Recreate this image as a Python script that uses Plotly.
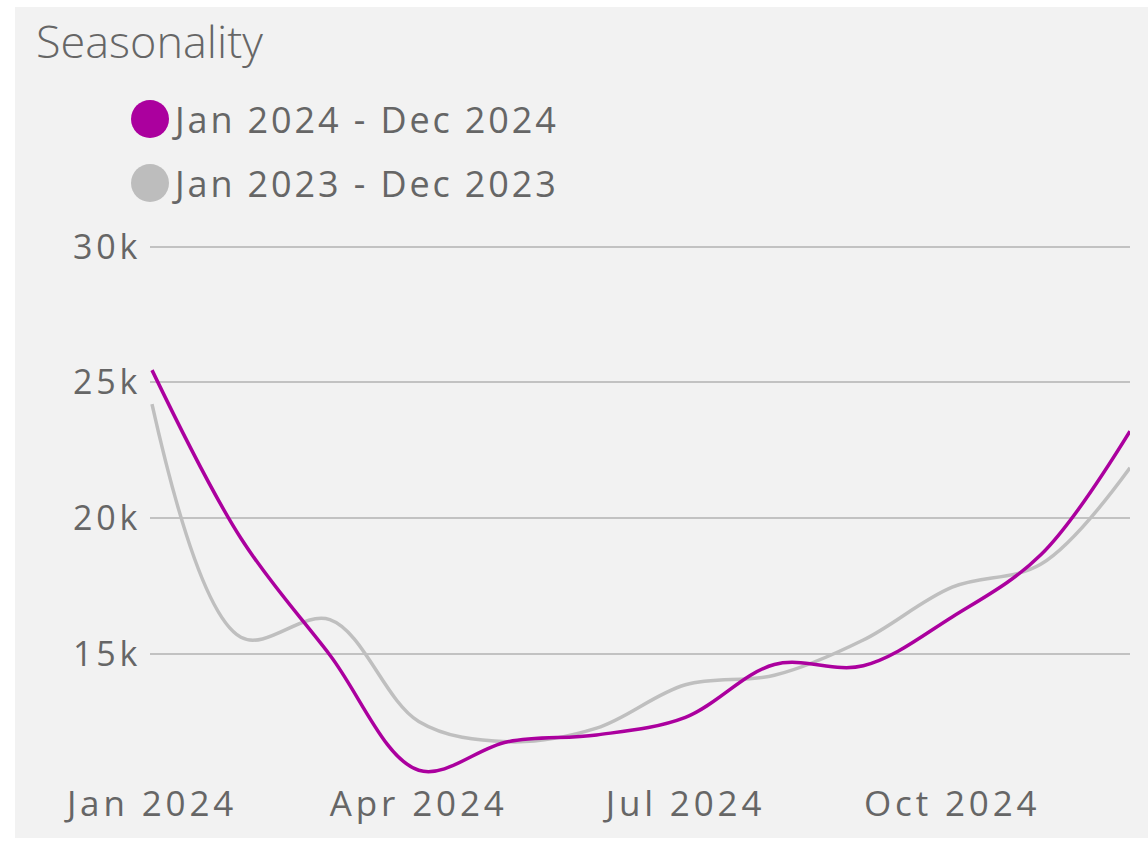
import plotly.graph_objects as go

# Monthly values (index 0 = January)
months = ["Jan", "Feb", "Mar", "Apr", "May", "Jun", "Jul", "Aug", "Sep", "Oct", "Nov", "Dec"]
series_2024_name = "Jan 2024 - Dec 2024"
series_2023_name = "Jan 2023 - Dec 2023"
values_2024 = [25450, 19250, 14950, 10700, 11750, 12000, 12650, 14600, 14550, 16350, 18650, 23200]
values_2023 = [24200, 15600, 16250, 12500, 11750, 12250, 13850, 14200, 15500, 17450, 18300, 21850]

x_tick_vals = [0, 3, 6, 9]
x_tick_text = ["Jan 2024", "Apr 2024", "Jul 2024", "Oct 2024"]
y_tick_vals = [15000, 20000, 25000, 30000]
y_tick_text = ["15k", "20k", "25k", "30k"]

COLOR_2024 = "#ab009e"
COLOR_2023 = "#bfbfbf"
TEXT = "#666666"
FONT = "Open Sans"

W, H = 1148, 843
L, R, T, B = 150, 18, 244, 63
pw, ph = W - L - R, H - T - B


def px_x(px):
    return (px - L) / pw


def px_y(py):
    return (H - B - py) / ph


x = list(range(len(months)))

fig = go.Figure()
fig.add_trace(go.Scatter(
    x=x, y=values_2023, mode="lines", name=series_2023_name,
    line=dict(color=COLOR_2023, width=3.5, shape="spline", smoothing=1.0),
    showlegend=False, hoverinfo="skip",
))
fig.add_trace(go.Scatter(
    x=x, y=values_2024, mode="lines", name=series_2024_name,
    line=dict(color=COLOR_2024, width=3.5, shape="spline", smoothing=1.0),
    showlegend=False, hoverinfo="skip",
))

shapes = [
    # light panel behind the whole card
    dict(type="rect", xref="paper", yref="paper", layer="below",
         x0=px_x(15), x1=px_x(W + 5), y0=px_y(838), y1=px_y(7),
         fillcolor="#f2f2f2", line=dict(width=0)),
]
annotations = []
legend_items = [(series_2024_name, COLOR_2024, 119), (series_2023_name, "#bdbdbd", 183)]
for name, color, cy in legend_items:
    r = 19
    shapes.append(dict(type="circle", xref="paper", yref="paper",
                       x0=px_x(150 - r), x1=px_x(150 + r),
                       y0=px_y(cy + r), y1=px_y(cy - r),
                       fillcolor=color, line=dict(width=0)))
    annotations.append(dict(text=name, xref="paper", yref="paper", align="left",
                            x=px_x(170), y=px_y(cy), xanchor="left", yanchor="middle",
                            showarrow=False, font=dict(family=FONT, size=36, color=TEXT)))

fig.update_layout(
    width=W, height=H,
    margin=dict(l=L, r=R, t=T, b=B),
    paper_bgcolor="white",
    plot_bgcolor="rgba(0,0,0,0)",
    title=dict(text="Seasonality", xref="container", yref="container",
               x=36 / W, y=1 - 42 / H, xanchor="left", yanchor="middle",
               font=dict(family=FONT, size=45, color=TEXT, weight=300)),
    shapes=shapes,
    annotations=annotations,
    xaxis=dict(range=[-0.0225, 11], tickvals=x_tick_vals, ticktext=x_tick_text,
               showgrid=False, zeroline=False, showline=False, ticks="",
               tickfont=dict(family=FONT, size=35, color=TEXT)),
    yaxis=dict(range=[10340, 30100], tickvals=y_tick_vals, ticktext=y_tick_text,
               showgrid=True, gridcolor="#c2c2c2", gridwidth=2,
               zeroline=False, showline=False, ticks="", ticklabelstandoff=8,
               tickfont=dict(family=FONT, size=34, color=TEXT)),
    showlegend=False,
)

post = """
var gd = document.getElementById('{plot_id}');
function spaceText() {
  gd.querySelectorAll('.xtick text, .ytick text').forEach(function (t) {
    t.style.letterSpacing = '0.11em';
  });
  gd.querySelectorAll('.annotation-text').forEach(function (t) {
    t.style.letterSpacing = '0.08em';
  });
}
spaceText();
gd.on('plotly_afterplot', spaceText);
"""

fig.write_html("out.html", post_script=post)
